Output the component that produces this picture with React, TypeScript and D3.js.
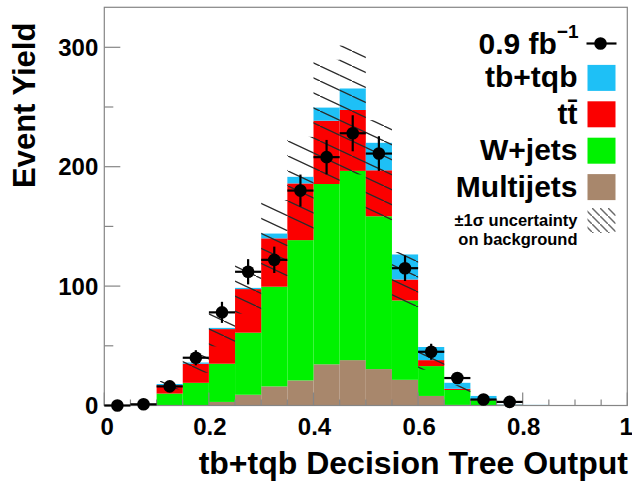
import React from 'react';
import * as d3 from 'd3';

// ---- data ----
const binLow = [0, 0.05, 0.1, 0.15, 0.2, 0.25, 0.3, 0.35, 0.4, 0.45, 0.5, 0.55, 0.6, 0.65, 0.7, 0.75, 0.8, 0.85, 0.9, 0.95];
const binWidth = 0.05;
const multijets = [0, 0, 0, 0, 3, 9, 16, 21, 34.5, 38, 30.5, 21.5, 8, 0.5, 0, 0, 0, 0, 0, 0];
const wjets = [0, 0, 10, 19, 32, 52, 83.5, 117.5, 151, 158.5, 128, 66.5, 25, 12.5, 4.5, 0.5, 0, 0, 0, 0];
const ttbar = [0, 0, 7, 16, 29, 36.5, 40.5, 47.5, 53, 51, 38.5, 17.5, 5, 1, 0.5, 0.2, 0, 0, 0, 0];
const signal = [0, 0, 1, 1, 1, 1, 4, 5.5, 11, 18, 23, 21, 11, 5, 3, 0.3, 0.5, 0, 0, 0];
const bkgUnc = [0, 0, 3.5, 7.5, 14.5, 20.5, 32, 39, 51, 54, 42, 23, 8, 3, 1, 0, 0, 0, 0, 0];
const dataYield: (number | null)[] = [0, 1, 16, 40, 78, 112, 122, 180, 208, 228, 211, 115, 45, 23, 5, 3, null, null, null, null];

const xTickLabels = ['0', '0.2', '0.4', '0.6', '0.8', '1'];
const xMajor = [0, 0.2, 0.4, 0.6, 0.8, 1];
const xMinor = [0.05, 0.1, 0.15, 0.25, 0.3, 0.35, 0.45, 0.5, 0.55, 0.65, 0.7, 0.75, 0.85, 0.9, 0.95];
const yMajor = [0, 100, 200, 300];
const yMinor = [50, 150, 250];

const seriesKeys = ['multijets', 'wjets', 'ttbar', 'signal'];
const seriesColors: Record<string, string> = {
  multijets: '#a8876c',
  wjets: '#00f200',
  ttbar: '#fb0000',
  signal: '#1ec0f6',
};
const legendLabels = ['tb+tqb', 'tt\u0304', 'W+jets', 'Multijets'];
const legendKeys = ['signal', 'ttbar', 'wjets', 'multijets'];

// ---- layout ----
const W = 632, H = 490;
const L = 104.3, R = 627.3, T = 7.3, B = 405.5;
const FONT = '"Liberation Sans", Arial, Helvetica, sans-serif';

export default function App() {
  const x = d3.scaleLinear().domain([0, 1]).range([L, R]);
  const y = d3.scaleLinear().domain([0, 333.5]).range([B, T]);

  const rows = binLow.map((lo, i) => ({
    lo,
    multijets: multijets[i],
    wjets: wjets[i],
    ttbar: ttbar[i],
    signal: signal[i],
  }));
  const stack = d3.stack<any>().keys(seriesKeys)(rows);
  const bkgTop = binLow.map((_, i) => multijets[i] + wjets[i] + ttbar[i]);

  const legendCenter = (i: number) => 41.5 + 36.4 * i;
  const swX = 587.5, swW = 28, swH = 26;
  const textRight = 577.5;

  return (
    <svg width={W} height={H} style={{ position: 'absolute', left: 0, top: 0, background: '#fff' }} fontFamily={FONT}>
      <defs>
        <pattern id="hatch" patternUnits="userSpaceOnUse" width={32} height={15} patternTransform="translate(0,6)">
          <line x1={-1} y1={-0.47} x2={33} y2={15.47} stroke="#2a2a2a" strokeWidth={1.3} />
        </pattern>
        <pattern id="hatchLeg" patternUnits="userSpaceOnUse" width={8} height={8}>
          <line x1={-1} y1={-1} x2={9} y2={9} stroke="#6a6a6a" strokeWidth={1.5} />
        </pattern>
        <clipPath id="plotClip">
          <rect x={L} y={T} width={R - L} height={B - T} />
        </clipPath>
      </defs>
      <rect x={0} y={0} width={W} height={H} fill="#fff" />

      {/* stacked histograms */}
      <g clipPath="url(#plotClip)">
        {stack.map((s) => (
          <g key={s.key} fill={seriesColors[s.key]}>
            {s.map((d, i) => {
              const h = d[1] - d[0];
              if (h <= 0) return null;
              const lo = binLow[i];
              return (
                <rect key={i} x={x(lo)} y={y(d[1])} width={x(lo + binWidth) - x(lo)} height={y(d[0]) - y(d[1])} />
              );
            })}
          </g>
        ))}
        {/* uncertainty band */}
        <g fill="url(#hatch)">
          {binLow.map((lo, i) => {
            if (bkgUnc[i] <= 0) return null;
            const top = bkgTop[i] + bkgUnc[i];
            const bot = bkgTop[i] - bkgUnc[i];
            return <rect key={i} x={x(lo)} y={y(top)} width={x(lo + binWidth) - x(lo)} height={y(bot) - y(top)} />;
          })}
        </g>
      </g>

      {/* frame */}
      <rect x={L} y={T} width={R - L} height={B - T} fill="none" stroke="#858585" strokeWidth={1.2} />
      {yMajor.map((v) => (
        <line key={'ym' + v} x1={L} x2={L + 16} y1={y(v)} y2={y(v)} stroke="#858585" strokeWidth={1.2} />
      ))}
      {yMinor.map((v) => (
        <line key={'yn' + v} x1={L} x2={L + 9} y1={y(v)} y2={y(v)} stroke="#858585" strokeWidth={1.2} />
      ))}
      {xMajor.map((v) => (
        <line key={'xm' + v} x1={x(v)} x2={x(v)} y1={B} y2={B - 13} stroke="#858585" strokeWidth={1.2} />
      ))}
      {xMinor.map((v) => (
        <line key={'xn' + v} x1={x(v)} x2={x(v)} y1={B} y2={B - 6} stroke="#858585" strokeWidth={1.2} />
      ))}

      {/* data points */}
      <g stroke="#000" strokeWidth={2.2} fill="#000">
        {dataYield.map((v, i) => {
          if (v === null) return null;
          const lo = binLow[i];
          const cx = x(lo + binWidth / 2);
          const err = Math.sqrt(v);
          return (
            <g key={i}>
              <line x1={x(lo)} x2={x(lo + binWidth)} y1={y(v)} y2={y(v)} />
              {err > 0 && <line x1={cx} x2={cx} y1={y(v + err)} y2={y(Math.max(0, v - err))} />}
              <circle cx={cx} cy={y(v)} r={6.3} stroke="none" />
            </g>
          );
        })}
      </g>

      {/* tick labels */}
      <g fontSize={24} fontWeight="bold" fill="#000">
        {yMajor.map((v) => (
          <text key={'yl' + v} x={L - 6} y={y(v) + 8.6} textAnchor="end">{String(v)}</text>
        ))}
        {xMajor.map((v, i) => (
          <text key={'xl' + v} x={x(v) + (i === 0 ? 3 : i === xMajor.length - 1 ? -1 : 1)} y={434.5} textAnchor="middle">{xTickLabels[i]}</text>
        ))}
      </g>

      {/* axis titles */}
      <text x={628} y={474} textAnchor="end" fontSize={32} fontWeight="bold">tb+tqb Decision Tree Output</text>
      <text transform="translate(35,188) rotate(-90)" x={0} y={0} textAnchor="start" fontSize={31} fontWeight="bold">Event Yield</text>

      {/* legend */}
      <g fontWeight="bold" fill="#000">
        <text x={textRight + 1} y={legendCenter(0) + 12} textAnchor="end" fontSize={30}>
          <tspan>0.9 fb</tspan>
          <tspan fontSize={19} dy={-16}>{'\u22121'}</tspan>
        </text>
        <line x1={swX - 1} x2={swX + swW + 1} y1={legendCenter(0) + 2} y2={legendCenter(0) + 2} stroke="#000" strokeWidth={2.2} />
        <circle cx={swX + swW / 2 - 1} cy={legendCenter(0) + 2} r={6.3} fill="#000" />
        {legendKeys.map((k, i) => {
          const c = legendCenter(i + 1);
          return (
            <g key={k}>
              <rect x={swX} y={c - swH / 2} width={swW} height={swH} fill={seriesColors[k]} />
              <text x={textRight} y={c + 9.5} textAnchor="end" fontSize={30}>{legendLabels[i]}</text>
            </g>
          );
        })}
        <rect x={swX} y={208} width={swW} height={25} fill="url(#hatchLeg)" />
        <text x={textRight} y={226} textAnchor="end" fontSize={16.5}>{'\u00b11\u03c3 uncertainty'}</text>
        <text x={textRight} y={244.5} textAnchor="end" fontSize={16.5}>on background</text>
      </g>
    </svg>
  );
}
